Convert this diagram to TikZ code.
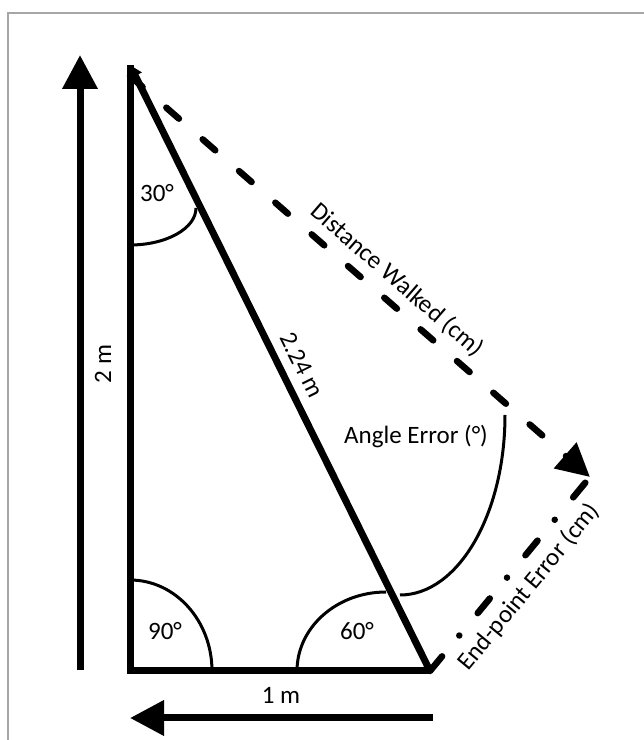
\documentclass[tikz,border=0pt]{standalone}
\usepackage{fontspec}
\setmainfont{Carlito}
\usetikzlibrary{arrows.meta}

\begin{document}
\begin{tikzpicture}[x=1pt, y=1pt,
  side/.style={line width=7pt},
  bigarr/.style={line width=7pt, -{Triangle[length=34pt,width=34pt]}},
  walk/.style={line width=6.5pt, line cap=round, dash pattern=on 16.7pt off 31.5pt,
               -{Triangle[length=33pt,width=33pt]}},
  err/.style={line width=6.5pt, line cap=round, dash pattern=on 19pt off 27pt on 0.01pt off 29pt},
  angarc/.style={line width=3pt},
  lab/.style={font=\fontsize{25}{29}\selectfont, inner sep=0pt},
]
\useasboundingbox (0,0) rectangle (644,740);
\draw[black!35, line width=1.5pt] (8,0) |- (644,727);

\coordinate (top)    at (130,675);
\coordinate (corner) at (130,69);
\coordinate (right)  at (430,69);
\coordinate (wstart) at (130,664);
\coordinate (wend)   at (590,263);
\coordinate (upbot)  at (80,70);
\coordinate (uptop)  at (80,685);
\coordinate (lfrom)  at (433,22);
\coordinate (lto)    at (130,22);

% direction arrows
\draw[bigarr] (upbot) -- (uptop);
\draw[bigarr] (lfrom) -- (lto);

% triangle
\draw[side] (top) -- (corner) -- (right);
\draw[side, -{Triangle[length=12pt,width=14pt]}] (right) -- (top);
\draw[walk] (wstart) -- (wend);
\draw[err] (right) -- (wend);

% angles
\draw[angarc] (130,495) arc[start angle=270, end angle=360, x radius=66pt, y radius=37pt];
\draw[angarc] (212,69) arc[start angle=0, end angle=90, x radius=82pt, y radius=91pt];
\draw[angarc] (297,69) arc[start angle=180, end angle=90, x radius=89pt, y radius=79pt];
\draw[angarc] (505,325) arc[start angle=0, end angle=-90, x radius=105pt, y radius=180pt];

\node[lab, rotate=90] (twom) at (103,376) {2 m};
\node[lab] (onem) at (281,45) {1 m};
\node[lab, rotate=-63.7] (hyp) at (302,375) {2.24 m};
\node[lab, rotate=-40.9] (dist) at (397,460) {Distance Walked (cm)};
\node[lab, rotate=50.5] (endp) at (529,153) {End-point Error (cm)};
\node[lab] (angerr) at (416,303) {Angle Error (°)};
\node[lab] (a30) at (157,547) {30°};
\node[lab] (a90) at (165,109) {90°};
\node[lab] (a60) at (357,109) {60°};
\end{tikzpicture}
\end{document}
